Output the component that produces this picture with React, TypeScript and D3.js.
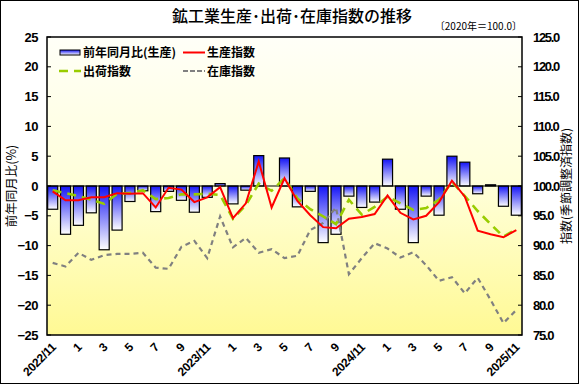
import React from 'react';
import * as d3 from 'd3';

const categories = [
  '2022/11','2022/12','2023/1','2023/2','2023/3','2023/4','2023/5','2023/6','2023/7','2023/8','2023/9','2023/10',
  '2023/11','2023/12','2024/1','2024/2','2024/3','2024/4','2024/5','2024/6','2024/7','2024/8','2024/9','2024/10',
  '2024/11','2024/12','2025/1','2025/2','2025/3','2025/4','2025/5','2025/6','2025/7','2025/8','2025/9','2025/10','2025/11',
];
const tickLabels = ['2022/11','1','3','5','7','9','2023/11','1','3','5','7','9','2024/11','1','3','5','7','9','2025/11'];

// 前年同月比(生産) %
const yoy = [
  -3.9, -8.1, -6.6, -4.5, -10.7, -7.4, -2.6, -0.8, -4.3, -0.9, -2.4, -4.4,
  -1.9, 0.4, -3.0, -0.7, 5.1, 0.0, 4.7, -3.5, -0.9, -9.5, -8.1, -1.7,
  -3.6, -2.7, 4.5, -3.9, -9.5, -1.7, -4.9, 5.0, 4.0, -1.3, 0.2, -3.4, -4.9,
];
// 生産指数
const production = [
  99.1, 97.6, 97.6, 98.1, 98.1, 98.8, 98.7, 98.8, 96.4, 99.7, 99.4, 97.3,
  98.1, 99.8, 94.6, 97.1, 104.1, 96.4, 101.3, 97.5, 95.1, 93.1, 92.9, 94.5,
  94.8, 95.3, 98.4, 95.5, 94.4, 95.0, 97.3, 100.9, 98.2, 92.5, 91.9, 91.4, 92.6,
];
// 出荷指数
const shipments = [
  99.3, 98.8, 98.3, 97.7, 97.0, 98.7, 98.8, 99.3, 97.8, 98.0, 98.6, 98.6,
  98.7, 98.5, 94.5, 96.8, 100.4, 99.2, 101.3, 97.9, 96.1, 94.9, 93.6, 97.7,
  95.2, 96.5, 98.2, 97.1, 96.0, 96.3, 97.7, 100.7, 98.3, 95.8, 93.6, 91.5, 92.8,
];
// 在庫指数
const inventory = [
  87.1, 86.5, 88.8, 87.6, 88.4, 88.6, 88.6, 88.8, 86.3, 86.1, 89.8, 90.8,
  87.9, 94.9, 89.7, 91.3, 88.8, 89.4, 87.9, 88.3, 92.6, 93.8, 96.4, 85.2,
  87.9, 90.4, 89.5, 88.0, 88.9, 86.7, 84.1, 84.7, 82.0, 84.6, 80.9, 77.0, 79.2,
];
const leftTicks = [25, 20, 15, 10, 5, 0, -5, -10, -15, -20, -25];
const rightTicks = [125, 120, 115, 110, 105, 100, 95, 90, 85, 80, 75];

const W = 580, H = 385;
const PL = 47, PR = 522, PT = 37, PB = 335;
const JP = '"Noto Sans CJK JP", "Noto Sans", sans-serif';
const NUM = '"Liberation Sans", Arial, sans-serif';

export default function App() {
  const x = d3.scaleBand<string>().domain(categories).range([PL, PR]).paddingInner(0.22).paddingOuter(0.05);
  const yL = d3.scaleLinear().domain([-25, 25]).range([PB, PT]);
  const yR = d3.scaleLinear().domain([75, 125]).range([PB, PT]);
  const cx = (i: number) => (x(categories[i]) as number) + x.bandwidth() / 2;
  const line = d3.line<number>().x((_, i) => cx(i)).y((d) => yR(d));

  return (
    <svg width={W} height={H} style={{ position: 'absolute', left: 0, top: 0, background: '#fff' }}>
      <defs>
        <linearGradient id="bg" x1="0" y1="0" x2="0" y2="1">
          <stop offset="0" stopColor="#FFFFF8" />
          <stop offset="0.5" stopColor="#FFFFD9" />
          <stop offset="1" stopColor="#FFF994" />
        </linearGradient>
        <linearGradient id="bar" x1="0" y1="0" x2="0" y2="1">
          <stop offset="0" stopColor="#1414F5" />
          <stop offset="1" stopColor="#FFFFFF" />
        </linearGradient>
      </defs>
      <rect x={0.5} y={0.5} width={W - 2} height={H - 2} fill="#fff" stroke="#000" strokeWidth={1} />
      <text x={292} y={22} textAnchor="middle" fontFamily={JP} fontSize={16} fontWeight={500} fill="#000">
        鉱工業生産･出荷･在庫指数の推移
      </text>
      <text x={522} y={30} textAnchor="end" fontFamily={JP} fontSize={10} fill="#000">〔2020年＝100.0〕</text>

      <rect x={PL} y={PT} width={PR - PL} height={PB - PT} fill="url(#bg)" />

      {yoy.map((v, i) => {
        const y0 = yL(0), y1 = yL(v);
        return (
          <rect key={i} x={x(categories[i])} y={Math.min(y0, y1)} width={x.bandwidth()} height={Math.abs(y1 - y0)}
            fill="url(#bar)" stroke="#000" strokeWidth={1.2} />
        );
      })}
      <line x1={PL} x2={PR} y1={yL(0)} y2={yL(0)} stroke="#000" strokeWidth={1.2} />

      <path d={line(inventory) || ''} fill="none" stroke="#808080" strokeWidth={2.2} strokeDasharray="5,4" />
      <path d={line(shipments) || ''} fill="none" stroke="#99CC00" strokeWidth={2.6} strokeDasharray="9,6" />
      <path d={line(production) || ''} fill="none" stroke="#FF0000" strokeWidth={2} />

      <rect x={PL} y={PT} width={PR - PL} height={PB - PT} fill="none" stroke="#000" strokeWidth={1.5} />

      {leftTicks.map((t) => (
        <g key={'l' + t}>
          <line x1={PL} x2={PL + 4} y1={yL(t)} y2={yL(t)} stroke="#000" />
          <text x={38} y={yL(t) + 4.5} textAnchor="end" fontFamily={NUM} fontSize={13} fontWeight="bold" letterSpacing={-0.5}>
            {t < 0 ? '−' + Math.abs(t) : String(t)}
          </text>
        </g>
      ))}
      {rightTicks.map((t) => (
        <g key={'r' + t}>
          <line x1={PR - 4} x2={PR} y1={yR(t)} y2={yR(t)} stroke="#000" />
          <text x={533} y={yR(t) + 4.5} fontFamily={NUM} fontSize={13} fontWeight="bold" letterSpacing={-1.3}>
            {t.toFixed(1)}
          </text>
        </g>
      ))}

      {tickLabels.map((lab, k) => {
        const px = cx(k * 2) + 4, py = 348;
        return (
          <text key={'x' + k} x={px} y={py} transform={`rotate(-45 ${px} ${py})`} textAnchor="end"
            fontFamily={NUM} fontSize={12} fontWeight="bold" letterSpacing={-0.3}>
            {lab}
          </text>
        );
      })}

      <text transform={`translate(16 ${yL(0)}) rotate(-90)`} textAnchor="middle" fontFamily={JP} fontSize={12.5}>
        前年同月比(%)
      </text>
      <text transform={`translate(571 ${yL(0)}) rotate(-90)`} textAnchor="middle" fontFamily={JP} fontSize={12}>
        指数(季節調整済指数)
      </text>

      {/* legend */}
      <rect x={60} y={50} width={20} height={5} fill="url(#bar)" stroke="#000" strokeWidth={1} />
      <text x={83} y={57} fontFamily={JP} fontSize={12} fontWeight="bold">前年同月比(生産)</text>
      <line x1={183} x2={205} y1={52.5} y2={52.5} stroke="#FF0000" strokeWidth={2} />
      <text x={207} y={57} fontFamily={JP} fontSize={12} fontWeight="bold">生産指数</text>
      <line x1={59} x2={81} y1={71} y2={71} stroke="#99CC00" strokeWidth={2.6} strokeDasharray="9,6" />
      <text x={83} y={76} fontFamily={JP} fontSize={12} fontWeight="bold">出荷指数</text>
      <line x1={183} x2={205} y1={71} y2={71} stroke="#808080" strokeWidth={2.2} strokeDasharray="5,2" />
      <text x={207} y={76} fontFamily={JP} fontSize={12} fontWeight="bold">在庫指数</text>
    </svg>
  );
}
